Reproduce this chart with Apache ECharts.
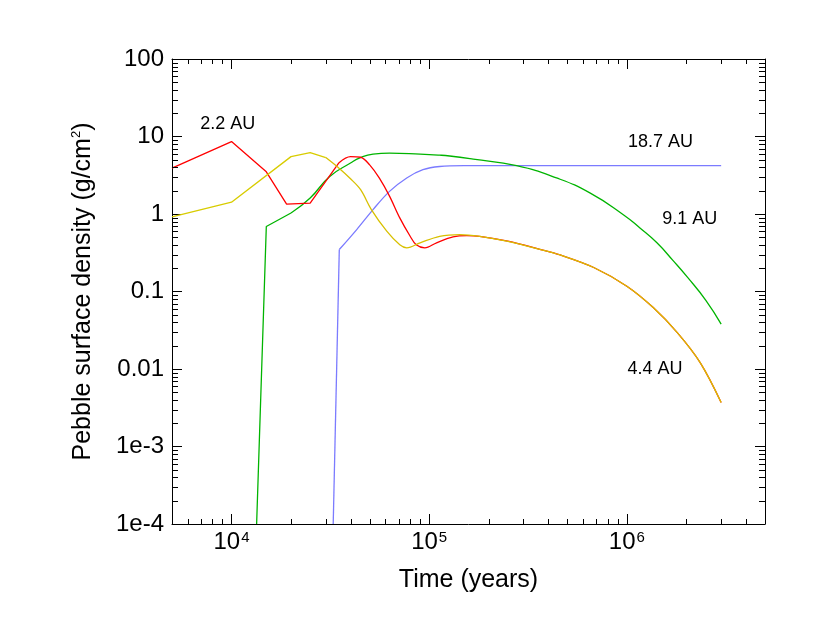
<!DOCTYPE html>
<html><head><meta charset="utf-8">
<script src="https://cdn.jsdelivr.net/npm/echarts@6/dist/echarts.min.js"></script>
<style>html,body{margin:0;padding:0;background:#fff}#c{width:830px;height:642px}</style>
</head><body><div id="c"></div>
<script>
// ---- data (time in years, surface density in g/cm^2) ----
const redEarlyX = [5000, 10000, 15000, 19000, 25000, 35000];
const redEarlyY = [3.9, 8.6, 3.5, 1.34, 1.38, 4.6];
const redLateX = [35000, 40000, 45000, 50000, 56000, 63000, 71000, 80000, 86000, 95000, 109000, 132000, 155000, 180000, 250000, 363000, 460000, 680000, 1000000, 1360000, 1800000, 2350000, 3000000];
const redLateY = [4.6, 5.5, 5.4, 4.3, 2.9, 1.7, 0.89, 0.52, 0.40, 0.366, 0.425, 0.507, 0.527, 0.516, 0.446, 0.35, 0.296, 0.204, 0.117, 0.062, 0.0295, 0.0121, 0.0037];

const yellowEarlyX = [5000, 10000, 20000, 25000, 30000];
const yellowEarlyY = [0.92, 1.42, 5.5, 6.2, 5.35];
const yellowLateX = [30000, 35000, 40000, 45000, 51000, 61000, 71000, 77000, 90000, 113000, 143000, 180000, 247000, 363000, 460000, 680000, 1000000, 1360000, 1800000, 2350000, 3000000];
const yellowLateY = [5.35, 3.9, 2.85, 2.06, 1.14, 0.60, 0.40, 0.366, 0.425, 0.516, 0.543, 0.516, 0.446, 0.35, 0.296, 0.204, 0.117, 0.062, 0.0295, 0.0121, 0.0037];

const greenEarlyX = [13400, 15000, 20000];
const greenEarlyY = [0.0001, 0.69, 1.03];
const greenLateX = [20000, 25000, 31400, 40000, 44600, 52000, 63000, 90000, 113000, 127000, 167000, 277000, 441000, 650000, 960000, 1165000, 1420000, 1710000, 2030000, 2510000, 3000000];
const greenLateY = [1.03, 1.61, 3.05, 4.55, 5.3, 5.93, 6.1, 5.93, 5.75, 5.6, 5.1, 4.2, 2.92, 1.87, 0.98, 0.66, 0.425, 0.252, 0.152, 0.077, 0.038];

const blueEarlyX = [32700, 35100];
const blueEarlyY = [0.0001, 0.348];
const blueLateX = [35100, 43000, 52000, 63000, 77000, 93000, 113000, 150000, 3000000];
const blueLateY = [0.348, 0.63, 1.14, 1.96, 2.92, 3.73, 4.1, 4.2, 4.2];

const curveNames = ['2.2 AU', '4.4 AU', '9.1 AU', '18.7 AU'];
const labelX = [9580, 1390000, 2080000, 1480000];
const labelY = [14.6, 0.01, 0.85, 8.4];

const xMin = 5000, xMax = 5000000;
const yMin = 0.0001, yMax = 100;
const yTickLabels = {'-4': '1e-4', '-3': '1e-3', '-2': '0.01', '-1': '0.1', '0': '1', '1': '10', '2': '100'};
const xMinorTicks = [6000, 7000, 8000, 9000, 20000, 30000, 40000, 50000, 60000, 70000, 80000, 90000,
  200000, 300000, 400000, 500000, 600000, 700000, 800000, 900000, 2000000, 3000000, 4000000];
const yMinorTicks = [];
[0.0001, 0.001, 0.01, 0.1, 1, 10].forEach(function (d) { for (let k = 2; k <= 9; k++) yMinorTicks.push(+(d * k).toPrecision(3)); });

// ---- chart ----
const FONT = '"Liberation Sans", Arial, Helvetica, sans-serif';
function zip(xs, ys) { return xs.map(function (x, i) { return [x, ys[i]]; }); }

const chart = echarts.init(document.getElementById('c'), null, { renderer: 'canvas' });

function lineSeries(xs, ys, color, smooth) {
  return {
    type: 'line', data: zip(xs, ys), showSymbol: false, symbol: 'none',
    smooth: smooth ? smooth : false,
    lineStyle: { color: color, width: 1.3 }, itemStyle: { color: color },
    clip: true, silent: true, z: 3
  };
}

const baseX = {
  type: 'log', logBase: 10, min: xMin, max: xMax,
  axisLine: { show: true, onZero: false, lineStyle: { color: '#000', width: 1 } },
  axisTick: { show: true, inside: true, length: 10, lineStyle: { color: '#000', width: 1 } },
  splitLine: { show: false }, minorTick: { show: false }
};
const baseY = {
  type: 'log', logBase: 10, min: yMin, max: yMax,
  axisLine: { show: true, onZero: false, lineStyle: { color: '#000', width: 1 } },
  axisTick: { show: true, inside: true, length: 10, lineStyle: { color: '#000', width: 1 } },
  splitLine: { show: false }, minorTick: { show: false }
};

const minorData = xMinorTicks.map(function (v) { return [v, yMin, 0]; })
  .concat(yMinorTicks.map(function (v) { return [xMin, v, 1]; }));

const option = {
  animation: false,
  backgroundColor: '#fff',
  textStyle: { fontFamily: FONT },
  grid: { left: 172, right: 65, top: 59, bottom: 118, containLabel: false },
  xAxis: [
    Object.assign({}, baseX, {
      position: 'bottom',
      name: 'Time (years)', nameLocation: 'middle', nameGap: 44,
      nameTextStyle: { fontSize: 25, color: '#000', fontFamily: FONT },
      axisLabel: {
        show: true, margin: 6, color: '#000', fontFamily: FONT,
        formatter: function (v) {
          const e = Math.log10(v);
          if (Math.abs(e - Math.round(e)) > 1e-6) return '';
          return '{b|10}{s|' + Math.round(e) + '}';
        },
        rich: {
          b: { fontSize: 24, lineHeight: 24, verticalAlign: 'bottom', color: '#000', fontFamily: FONT },
          s: { fontSize: 15, lineHeight: 15, verticalAlign: 'top', color: '#000', fontFamily: FONT, padding: [0, 0, 0, 1] }
        }
      }
    }),
    Object.assign({}, baseX, { position: 'top', axisLabel: { show: false } })
  ],
  yAxis: [
    Object.assign({}, baseY, {
      position: 'left',
      name: '{a|Pebble surface density (g/cm}{s|2}{a|)}',
      nameLocation: 'middle', nameGap: 76, nameRotate: 90,
      nameTextStyle: {
        rich: {
          a: { fontSize: 25, lineHeight: 26, verticalAlign: 'bottom', color: '#000', fontFamily: FONT },
          s: { fontSize: 13, lineHeight: 13, verticalAlign: 'top', color: '#000', fontFamily: FONT }
        }
      },
      axisLabel: {
        show: true, margin: 8, color: '#000', fontSize: 24, fontFamily: FONT,
        formatter: function (v) {
          const e = Math.round(Math.log10(v));
          return yTickLabels[String(e)] || '';
        }
      }
    }),
    Object.assign({}, baseY, { position: 'right', axisLabel: { show: false } })
  ],
  series: [
    lineSeries(blueEarlyX, blueEarlyY, '#7b7bff', false),
    lineSeries(blueLateX, blueLateY, '#7b7bff', 0.35),
    lineSeries(greenEarlyX, greenEarlyY, '#00b400', false),
    lineSeries(greenLateX, greenLateY, '#00b400', 0.5),
    lineSeries(redEarlyX, redEarlyY, '#ff0000', false),
    lineSeries(redLateX, redLateY, '#ff0000', 0.35),
    lineSeries(yellowEarlyX, yellowEarlyY, '#d8cc00', false),
    lineSeries(yellowLateX, yellowLateY, '#d8c000', 0.35),
    {
      type: 'custom', coordinateSystem: 'cartesian2d', silent: true, clip: false, z: 5,
      data: minorData, encode: { x: 0, y: 1 },
      renderItem: function (params, api) {
        const kind = api.value(2);
        const st = { stroke: '#000', lineWidth: 1 };
        if (kind === 0) {
          const v = api.value(0);
          const b = api.coord([v, yMin]);
          const t = api.coord([v, yMax]);
          const x = Math.round(b[0]) + 0.5;
          return { type: 'group', children: [
            { type: 'line', shape: { x1: x, y1: b[1], x2: x, y2: b[1] - 5 }, style: st },
            { type: 'line', shape: { x1: x, y1: t[1], x2: x, y2: t[1] + 5 }, style: st }
          ] };
        } else {
          const v = api.value(1);
          const l = api.coord([xMin, v]);
          const r = api.coord([xMax, v]);
          const y = Math.round(l[1]) + 0.5;
          return { type: 'group', children: [
            { type: 'line', shape: { x1: l[0], y1: y, x2: l[0] + 6, y2: y }, style: st },
            { type: 'line', shape: { x1: r[0], y1: y, x2: r[0] - 6, y2: y }, style: st }
          ] };
        }
      }
    },
    {
      type: 'scatter', silent: true, symbolSize: 0, z: 6,
      itemStyle: { color: 'transparent' },
      data: labelX.map(function (x, i) { return [x, labelY[i], curveNames[i]]; }),
      label: {
        show: true, position: 'inside', color: '#000', opacity: 1, textBorderWidth: 0,
        fontSize: 18, fontFamily: FONT,
        formatter: function (p) { return p.data[2]; }
      }
    }
  ]
};
chart.setOption(option);
</script>
</body></html>
